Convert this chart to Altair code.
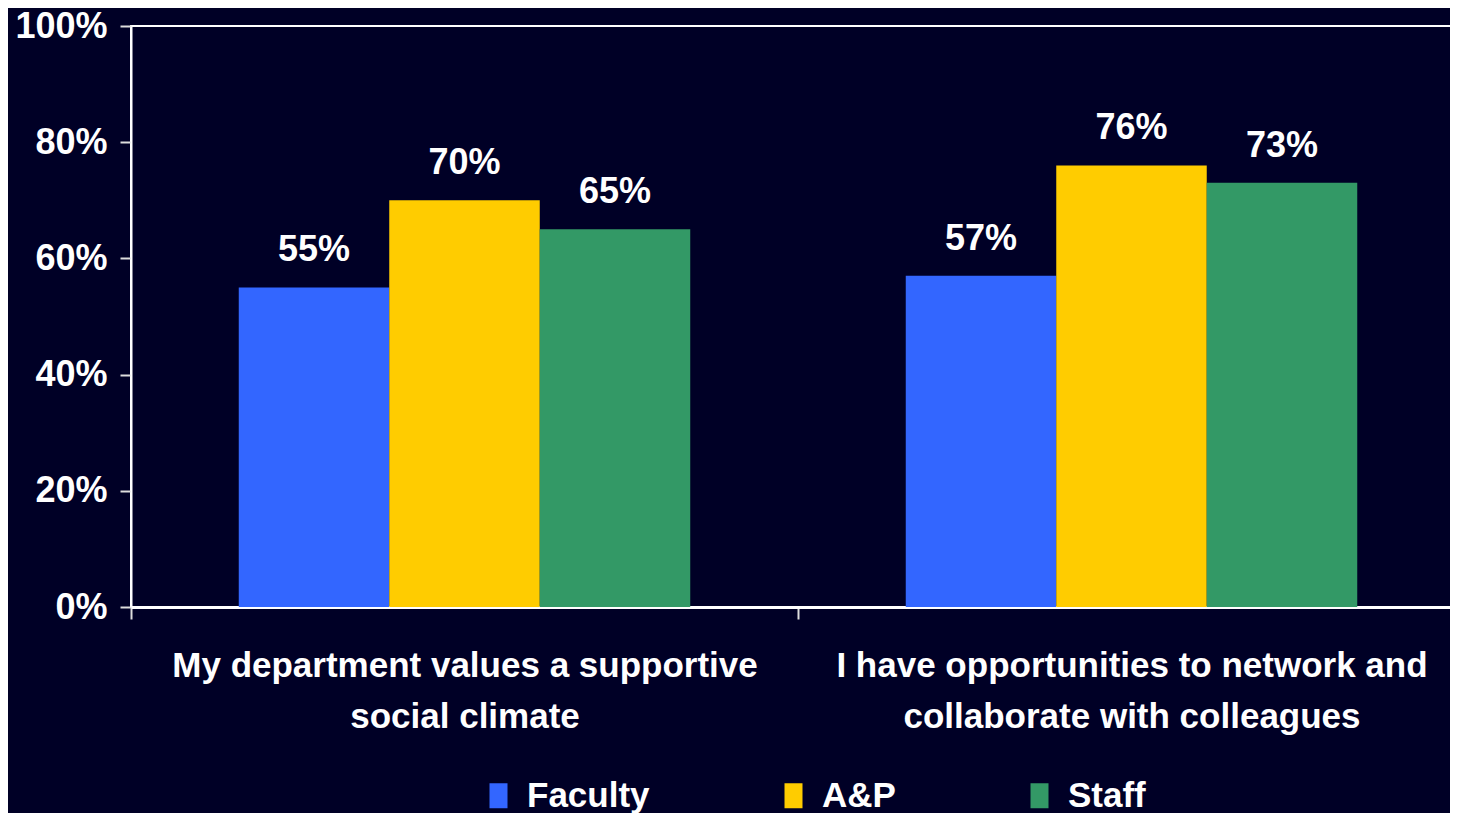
import altair as alt
import pandas as pd

categories = ["My department values a supportive|social climate",
              "I have opportunities to network and|collaborate with colleagues"]
groups = ["Faculty", "A&P", "Staff"]
faculty = [0.55, 0.57]
ap = [0.70, 0.76]
staff = [0.65, 0.73]
colors = ["#3366FF", "#FFCC00", "#339966"]

rows = []
for i, c in enumerate(categories):
    for g, vals in zip(groups, [faculty, ap, staff]):
        rows.append({"question": c, "group": g, "value": vals[i]})
df = pd.DataFrame(rows)

FONT = "Liberation Sans"
BG = "#000026"

x = alt.X("question:N", sort=categories, title=None,
          scale=alt.Scale(paddingInner=0, paddingOuter=0),
          axis=alt.Axis(labelExpr="split(datum.label, '|')", labelAngle=0,
                        labelFont=FONT, labelFontWeight="bold", labelFontSize=35,
                        labelColor="white", labelLineHeight=51, labelPadding=29,
                        labelLimit=1000,
                        tickBand="extent", tickSize=12, tickColor="#DDDDDD",
                        tickWidth=2, domainColor="white", domainWidth=3,
                        labelBaseline="top"))
xo = alt.XOffset("group:N", sort=groups,
                 scale=alt.Scale(paddingOuter=0.716, paddingInner=0))
y = alt.Y("value:Q", title=None,
          scale=alt.Scale(domain=[0, 1], nice=False),
          axis=alt.Axis(format=".0%", values=[0, 0.2, 0.4, 0.6, 0.8, 1.0],
                        labelFont=FONT, labelFontWeight="bold", labelFontSize=36,
                        labelColor="white", labelPadding=13, tickSize=11,
                        tickColor="#DDDDDD", tickWidth=2, domainColor="white",
                        domainWidth=2, grid=False))
color = alt.Color("group:N", sort=groups,
                  scale=alt.Scale(domain=groups, range=colors),
                  legend=alt.Legend(title=None, orient="none", direction="horizontal",
                                    legendX=350, legendY=752, columnPadding=126,
                                    symbolType="M-0.72,-1H0.72V1H-0.72Z",
                                    symbolSize=625, symbolStrokeWidth=0,
                                    labelFont=FONT, labelFontWeight="bold",
                                    labelFontSize=35, labelColor="white",
                                    labelOffset=11, labelLimit=1000))

base = alt.Chart(df).encode(x=x, xOffset=xo, y=y)
bars = base.mark_bar(stroke=None).encode(color=color)
labels = base.mark_text(dy=-26, baseline="alphabetic", font=FONT, fontWeight="bold",
                        fontSize=36, color="white").encode(text=alt.Text("value:Q", format=".0%"))

chart = alt.layer(bars, labels).properties(
    width=1334, height=581, background=BG,
    autosize=alt.AutoSizeParams(type="none"),
    padding={"left": 123, "top": 18, "right": -15, "bottom": 206},
).configure_view(stroke="white", strokeWidth=2)

chart.save("out.html", embed_options={"renderer": "svg", "actions": False})
